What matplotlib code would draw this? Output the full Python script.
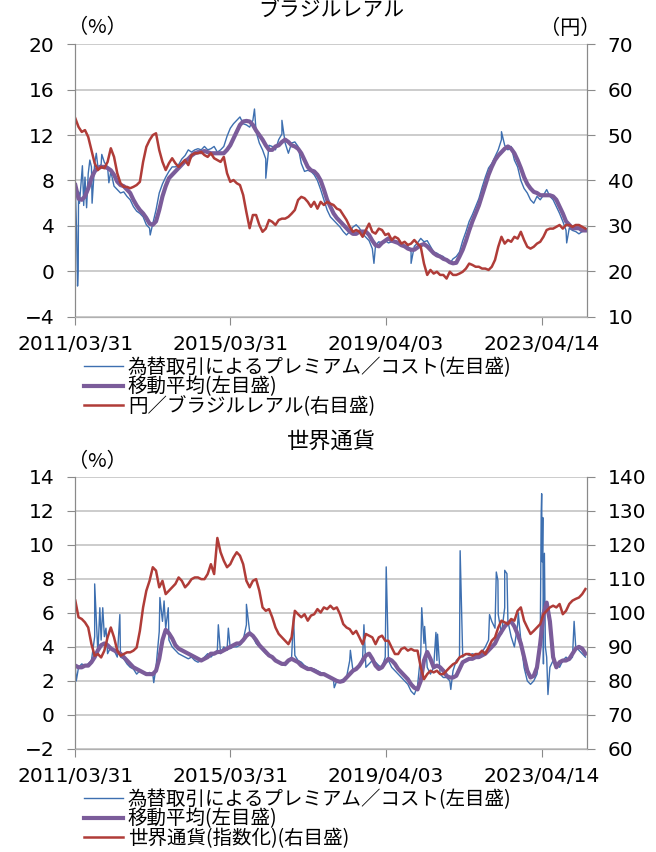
import numpy as np
import pandas as pd
import matplotlib
matplotlib.use('Agg')
import matplotlib.pyplot as plt

plt.rcParams['font.family'] = ['Noto Sans CJK JP', 'DejaVu Sans']

# monthly readings, month 0 = 2011/03/31
brl_cost = [7.5, 7.0, 8.6, 8.3, 8.6, 9.2, 9.5, 9.2, 9.4, 9.6, 9.2, 8.8, 7.5, 7.2, 6.9, 7.0, 6.6, 6.3, 5.7, 5.3,
            5.1, 4.8, 4.1, 3.8, 4.2, 5.4, 6.9, 7.7, 8.3, 8.8, 9.2, 9.2, 9.4, 9.9, 10.2, 10.7, 10.5, 10.7, 10.8, 10.7,
            11.0, 10.7, 10.8, 11.0, 10.5, 10.7, 11.0, 11.9, 12.6, 13.0, 13.3, 13.6, 13.0, 12.9, 12.7, 13.3, 12.3, 11.3, 10.7, 9.9,
            11.1, 11.0, 10.7, 11.6, 12.1, 11.3, 10.4, 11.3, 11.4, 11.0, 9.5, 8.8, 8.9, 8.8, 8.5, 8.0, 7.2, 6.3, 5.4, 4.8,
            4.5, 4.2, 3.9, 3.5, 3.2, 3.5, 3.9, 4.1, 3.8, 3.3, 3.0, 2.7, 2.0, 2.3, 2.6, 2.5, 2.7, 2.5, 2.6, 2.7,
            2.6, 2.3, 2.2, 2.2, 1.7, 2.2, 2.5, 2.9, 2.6, 2.7, 2.2, 1.7, 1.6, 1.4, 1.3, 1.0, 0.7, 1.1, 1.3, 1.7,
            2.7, 3.5, 4.4, 5.0, 5.7, 6.4, 7.4, 8.3, 9.1, 9.5, 10.1, 10.7, 11.6, 11.1, 10.7, 11.0, 9.8, 9.2, 8.0, 7.3,
            6.9, 6.3, 6.0, 6.6, 6.3, 6.7, 7.2, 6.6, 6.3, 5.7, 5.1, 4.4, 3.6, 3.8, 3.6, 3.5, 3.3, 3.5, 3.8]
brl_spike_m = [0.4, 0.7, 0.9, 1.3, 2.2, 2.6, 3.5, 4.5, 5.2, 6.5, 8.2, 10.4, 23.2, 55.5, 59.0, 64.0, 92.5, 104.0, 132.0, 152.2]
brl_spike_v = [3.5, -1.3, 0.0, 6.0, 9.3, 5.8, 5.6, 9.8, 6.0, 10.4, 10.3, 7.8, 3.2, 14.3, 8.2, 13.3, 0.7, 0.7, 12.3, 2.5]
brl_ma = [7.6, 6.4, 6.3, 6.6, 7.3, 8.2, 8.8, 9.1, 9.2, 9.2, 9.1, 8.9, 8.5, 7.9, 7.6, 7.5, 7.2, 6.9, 6.3, 5.8,
          5.4, 5.1, 4.7, 4.2, 4.1, 4.4, 5.4, 6.6, 7.5, 8.2, 8.5, 8.8, 9.1, 9.4, 9.7, 9.9, 10.2, 10.4, 10.5, 10.5,
          10.6, 10.5, 10.4, 10.4, 10.4, 10.4, 10.4, 10.7, 11.1, 11.7, 12.3, 12.9, 13.2, 13.25, 13.2, 12.9, 12.4, 12.0, 11.6, 11.1,
          10.7, 10.7, 11.0, 11.1, 11.4, 11.6, 11.4, 11.1, 11.0, 10.8, 10.4, 9.8, 9.2, 8.9, 8.8, 8.5, 8.0, 7.2, 6.3, 5.7,
          5.1, 4.7, 4.4, 4.1, 3.8, 3.5, 3.3, 3.3, 3.5, 3.5, 3.5, 3.2, 2.7, 2.3, 2.2, 2.5, 2.7, 2.9, 2.7, 2.6,
          2.5, 2.3, 2.2, 2.0, 1.9, 1.9, 2.1, 2.3, 2.4, 2.2, 1.9, 1.6, 1.4, 1.3, 1.1, 1.0, 0.8, 0.7, 0.75, 1.3,
          1.9, 2.7, 3.6, 4.4, 5.1, 5.8, 6.7, 7.6, 8.5, 9.2, 9.8, 10.2, 10.5, 10.8, 11.0, 10.8, 10.4, 9.8, 9.1, 8.3,
          7.7, 7.3, 7.0, 6.9, 6.7, 6.7, 6.7, 6.7, 6.6, 6.3, 5.7, 5.1, 4.4, 4.1, 3.8, 3.8, 3.8, 3.6, 3.6]
jpy_brl = [53.7, 51.8, 50.7, 51.1, 49.6, 46.7, 43.8, 42.3, 43.0, 42.7, 44.1, 47.1, 45.2, 41.6, 39.4, 38.6, 38.6, 38.3, 38.6, 39.0,
           39.7, 44.1, 47.4, 48.9, 50.0, 50.4, 46.7, 44.1, 42.3, 43.8, 44.9, 43.8, 43.0, 43.8, 44.5, 43.4, 45.6, 46.0, 46.0, 46.3,
           45.6, 45.2, 46.0, 44.9, 44.5, 44.1, 45.2, 41.6, 39.7, 40.1, 39.4, 39.0, 36.8, 33.0, 29.5, 32.4, 32.4, 30.2, 28.7, 29.4,
           31.3, 30.9, 30.2, 31.3, 31.6, 31.6, 32.0, 32.7, 33.5, 35.7, 36.4, 36.1, 35.3, 34.2, 35.3, 33.8, 35.3, 34.6, 35.3, 34.9,
           34.6, 33.8, 33.5, 32.4, 31.3, 29.8, 28.7, 29.1, 28.7, 27.6, 29.1, 30.5, 28.7, 28.3, 29.4, 29.1, 28.0, 28.3, 26.9, 27.6,
           27.2, 26.1, 26.5, 25.8, 26.1, 26.9, 26.1, 25.4, 21.7, 19.2, 20.3, 19.5, 19.9, 19.2, 19.2, 18.4, 19.9, 19.2, 19.2, 19.5,
           19.9, 20.6, 21.7, 21.4, 21.0, 21.0, 20.6, 20.6, 20.3, 21.0, 22.5, 25.4, 27.6, 26.1, 26.9, 26.5, 27.6, 27.2, 28.7, 26.9,
           25.4, 25.0, 25.4, 26.1, 26.5, 27.6, 29.1, 29.4, 29.4, 29.8, 30.2, 29.4, 30.2, 30.2, 29.8, 30.2, 30.2, 29.8, 29.4]

wld_cost = [2.8, 2.8, 3.0, 2.9, 3.0, 3.2, 4.6, 3.6, 4.4, 4.6, 3.6, 4.0, 3.8, 3.4, 3.4, 3.3, 3.0, 2.8, 2.7, 2.4,
            2.6, 2.5, 2.4, 2.5, 2.4, 2.8, 4.9, 5.5, 5.1, 4.4, 4.0, 3.8, 3.6, 3.5, 3.4, 3.3, 3.4, 3.2, 3.1, 3.2,
            3.4, 3.6, 3.4, 3.6, 3.8, 3.6, 4.0, 3.8, 3.9, 4.0, 4.0, 4.1, 4.4, 5.3, 4.9, 4.6, 4.2, 4.0, 3.8, 3.6,
            3.5, 3.4, 3.2, 3.1, 3.0, 2.9, 3.1, 3.4, 3.5, 3.2, 3.1, 2.9, 2.8, 2.7, 2.7, 2.6, 2.5, 2.4, 2.3, 2.2,
            2.0, 2.0, 2.0, 2.1, 2.2, 3.2, 2.6, 2.8, 2.8, 3.4, 2.8, 3.0, 3.2, 3.1, 2.9, 2.8, 3.4, 3.2, 2.8, 2.6,
            2.4, 2.2, 2.0, 1.8, 1.4, 1.2, 1.7, 3.6, 4.2, 2.8, 2.4, 2.8, 3.2, 2.4, 2.2, 2.2, 2.0, 2.6, 3.2, 3.4,
            3.4, 3.6, 3.5, 3.6, 3.5, 3.4, 3.7, 4.0, 4.4, 5.5, 5.1, 5.9, 4.75, 6.3, 5.5, 4.6, 4.0, 5.3, 4.4, 2.8,
            2.0, 1.8, 2.0, 2.4, 4.0, 3.0, 3.4, 2.8, 3.2, 3.0, 2.8, 3.2, 3.4, 3.2, 3.4, 4.0, 3.8, 3.6, 3.4]
wld_spike_m = [0.3, 6.0, 7.6, 8.5, 9.5, 13.8, 24.3, 26.2, 27.5, 28.8, 44.3, 47.4, 53.0, 67.6, 80.2, 85.2, 89.4, 96.3,
               107.3, 108.2, 111.7, 112.2, 116.3, 119.2, 128.3, 130.4, 130.9, 133.0, 133.7, 137.2,
               144.3, 144.45, 144.6, 144.8, 145.0, 145.3, 145.6, 146.4, 154.5]
wld_spike_v = [2.0, 7.7, 6.3, 6.3, 5.1, 5.9, 1.9, 6.9, 6.7, 6.3, 5.3, 5.1, 6.5, 5.8, 1.6, 3.8, 5.3, 8.7,
               6.3, 5.2, 4.85, 4.75, 1.5, 9.65, 5.9, 8.4, 7.9, 8.5, 8.3, 6.0,
               11.8, 13.0, 9.0, 11.6, 6.0, 9.5, 4.0, 1.2, 5.5]
wld_ma = [2.9, 2.8, 2.8, 2.9, 2.9, 3.1, 3.4, 3.8, 4.1, 4.2, 4.1, 3.9, 3.8, 3.7, 3.6, 3.4, 3.2, 3.0, 2.8, 2.7,
          2.6, 2.5, 2.4, 2.4, 2.4, 2.6, 3.3, 4.4, 5.0, 4.8, 4.5, 4.1, 3.9, 3.8, 3.7, 3.6, 3.5, 3.4, 3.3, 3.2,
          3.3, 3.4, 3.6, 3.6, 3.7, 3.7, 3.8, 3.9, 4.0, 4.1, 4.2, 4.2, 4.4, 4.65, 4.8, 4.65, 4.4, 4.1, 3.9, 3.7,
          3.5, 3.4, 3.2, 3.1, 3.0, 3.0, 3.2, 3.3, 3.2, 3.1, 2.9, 2.8, 2.7, 2.7, 2.6, 2.5, 2.4, 2.4, 2.3, 2.2,
          2.1, 2.0, 1.95, 2.0, 2.2, 2.4, 2.6, 2.7, 2.9, 3.2, 3.5, 3.6, 3.3, 2.9, 2.7, 2.8, 3.1, 3.3, 3.2, 3.0,
          2.7, 2.5, 2.3, 2.1, 1.8, 1.6, 1.5, 2.0, 3.2, 3.7, 3.3, 2.8, 2.9, 2.8, 2.6, 2.3, 2.2, 2.2, 2.3, 2.7,
          3.1, 3.2, 3.3, 3.3, 3.4, 3.4, 3.5, 3.6, 3.8, 4.0, 4.2, 4.6, 4.9, 5.2, 5.4, 5.5, 5.2, 4.75, 4.2, 3.4,
          2.6, 2.2, 2.3, 2.8, 4.2, 5.9, 6.6, 5.5, 3.4, 2.8, 3.1, 3.2, 3.2, 3.3, 3.6, 3.9, 4.0, 3.9, 3.6]
wld_index = [103.6, 98.7, 98.2, 97.2, 95.7, 90.8, 87.4, 87.9, 86.9, 88.9, 92.8, 95.7, 92.8, 88.9, 87.4, 87.9, 88.4, 88.4, 88.9, 89.8,
             94.7, 101.6, 106.5, 109.4, 113.4, 112.4, 107.5, 109.4, 105.5, 106.5, 107.5, 108.5, 110.4, 109.4, 107.5, 108.5, 109.9, 110.4, 110.4, 109.9,
             109.9, 111.4, 114.3, 111.4, 122.0, 117.8, 115.3, 113.4, 114.3, 116.3, 117.8, 116.8, 114.3, 109.4, 107.5, 109.4, 109.9, 106.5, 101.6, 100.6,
             101.1, 98.7, 95.7, 93.8, 92.8, 91.8, 90.8, 92.8, 100.6, 99.6, 98.7, 99.6, 97.7, 99.2, 99.6, 101.1, 100.1, 101.6, 101.1, 102.1,
             101.1, 101.6, 99.6, 96.7, 95.7, 95.2, 93.8, 94.7, 92.8, 90.8, 93.8, 93.3, 92.8, 90.8, 92.8, 93.3, 91.8, 91.8, 89.8, 87.9,
             87.9, 89.4, 89.8, 88.9, 89.4, 88.9, 88.9, 84.0, 80.5, 82.0, 83.0, 82.5, 83.0, 82.0, 82.0, 83.0, 84.0, 84.9, 85.4, 86.9,
             87.4, 87.9, 87.9, 87.4, 87.9, 87.9, 88.9, 87.9, 89.8, 91.8, 92.8, 95.7, 97.7, 97.2, 96.7, 98.2, 97.7, 100.6, 101.6, 97.7,
             95.7, 93.8, 94.7, 95.7, 96.7, 99.6, 100.6, 101.6, 102.1, 101.6, 102.6, 99.6, 100.6, 102.6, 103.6, 104.1, 104.5, 105.5, 107.0]

tick_dates = ['2011/03/31', '2015/03/31', '2019/04/03', '2023/04/14']
cost_label = '為替取引によるプレミアム／コスト(左目盛)'
ma_label = '移動平均(左目盛)'

BLUE = '#3d6fb0'
PURPLE = '#7b5c9a'
RED = '#b03c38'
start = pd.Timestamp('2011-03-31')


def to_dates(m):
    return start + pd.to_timedelta(np.asarray(m, float) * 30.4375, unit='D')


def with_spikes(vals, sm, sv):
    m = np.concatenate([np.arange(len(vals)), sm])
    v = np.concatenate([vals, sv])
    o = np.argsort(m, kind='stable')
    return to_dates(m[o]), v[o]


def panel(ax, cost, sm, sv, ma, right, right_label, ylim, yticks, rlim, rticks):
    x, y = with_spikes(cost, sm, sv)
    xm = to_dates(np.arange(len(ma)))
    l1, = ax.plot(x, y, color=BLUE, lw=1.0, label=cost_label)
    l2, = ax.plot(xm, ma, color=PURPLE, lw=3.0, label=ma_label)
    ax2 = ax.twinx()
    l3, = ax2.plot(xm, right, color=RED, lw=1.8, label=right_label)

    ax.set_ylim(*ylim)
    ax.set_yticks(yticks)
    ax.set_yticklabels([str(t).replace('-', '−') for t in yticks])
    ax2.set_ylim(*rlim)
    ax2.set_yticks(rticks)
    ax.set_xlim(to_dates([0, 158.4]))
    ax.set_xticks(pd.to_datetime(tick_dates))
    ax.set_xticklabels(tick_dates)

    ax.yaxis.grid(True, color='#c8c8c8', lw=1.3)
    ax.set_axisbelow(True)
    for a in (ax, ax2):
        a.spines['top'].set_visible(False)
        a.spines['left'].set_color('#8a8a8a')
        a.spines['right'].set_color('#8a8a8a')
        a.spines['bottom'].set_color('#b0b0b0')
        a.tick_params(labelsize=14.5, color='#8a8a8a', length=6, pad=9)
        for lab in a.get_xticklabels() + a.get_yticklabels():
            lab.set_fontfamily('DejaVu Sans')
    ax.tick_params(axis='x', length=6, pad=7)
    return [l1, l2, l3]


fig = plt.figure(figsize=(6.56, 8.52), dpi=100)
W, H = 656, 852

ax_top = fig.add_axes([75.3 / W, 1 - 316.7 / H, 511.4 / W, 272.4 / H])
h_top = panel(ax_top, brl_cost, brl_spike_m, brl_spike_v, brl_ma, jpy_brl, '円／ブラジルレアル(右目盛)',
              (-4, 20), list(range(-4, 21, 4)), (10, 70), list(range(10, 71, 10)))
ax_bot = fig.add_axes([75.3 / W, 1 - 749 / H, 511.4 / W, 272.3 / H])
h_bot = panel(ax_bot, wld_cost, wld_spike_m, wld_spike_v, wld_ma, wld_index, '世界通貨(指数化)(右目盛)',
              (-2, 14), list(range(-2, 15, 2)), (60, 140), list(range(60, 141, 10)))

fig.text(331 / W, 1 - 10 / H, 'ブラジルレアル', ha='center', va='center', fontsize=15)
fig.text(331 / W, 1 - 441 / H, '世界通貨', ha='center', va='center', fontsize=16)
fig.text(97 / W, 1 - 28 / H, '（%）', ha='center', va='center', fontsize=14.5)
fig.text(570 / W, 1 - 28 / H, '（円）', ha='center', va='center', fontsize=14.5)
fig.text(97 / W, 1 - 462 / H, '（%）', ha='center', va='center', fontsize=14.5)

for handles, top in ((h_top, 357), (h_bot, 789)):
    fig.legend(handles, [h.get_label() for h in handles], loc='upper left',
               bbox_to_anchor=(84 / W, 1 - top / H), frameon=False, fontsize=14,
               labelspacing=-0.08, handlelength=2.0, handletextpad=0.25, borderpad=0, borderaxespad=0)

fig.savefig('out.png', dpi=100)
